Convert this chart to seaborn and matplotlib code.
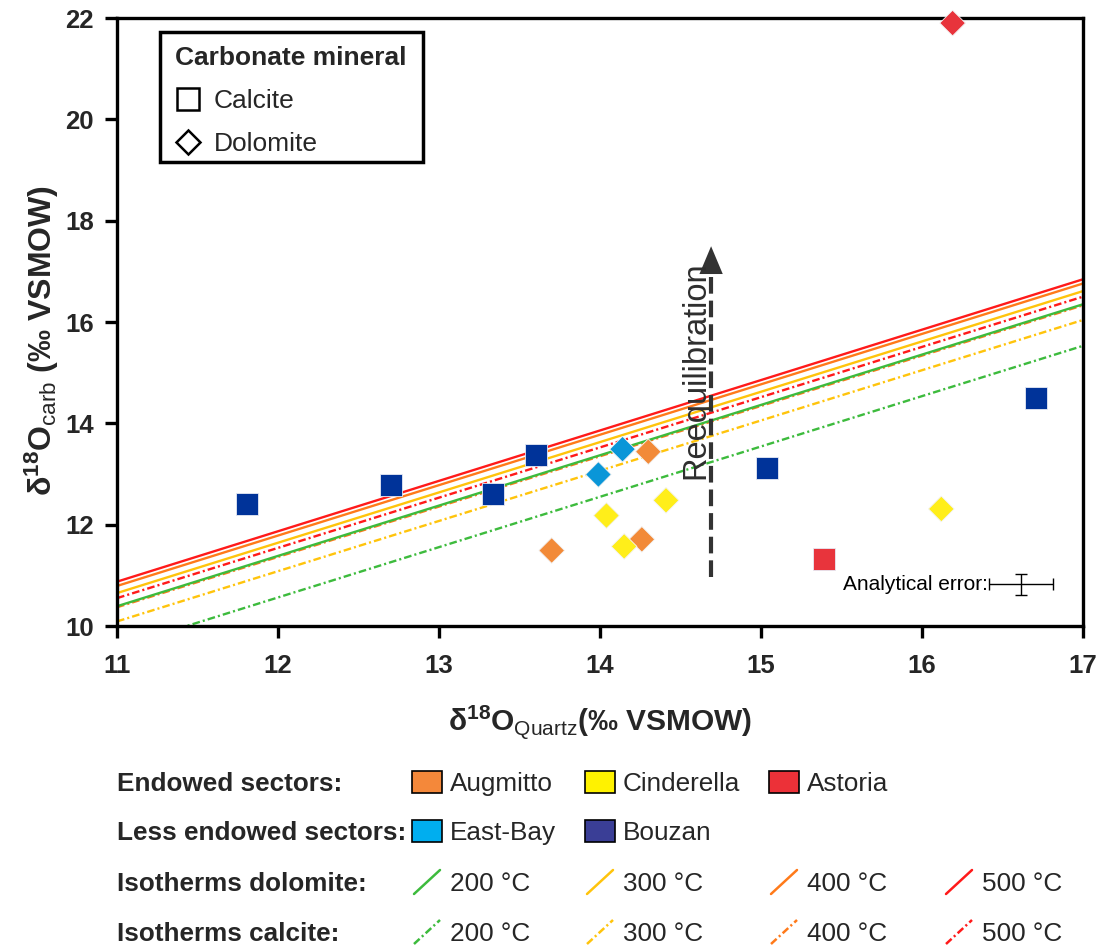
import matplotlib
matplotlib.use("Agg")
import matplotlib.pyplot as plt
import numpy as np
import pandas as pd
import seaborn as sns
from matplotlib.lines import Line2D
from matplotlib.patches import Rectangle

sns.set_style("ticks")
plt.rcParams["font.family"] = ["Liberation Sans", "DejaVu Sans"]
plt.rcParams["mathtext.fontset"] = "custom"
plt.rcParams["mathtext.rm"] = "Liberation Sans"
plt.rcParams["mathtext.bf"] = "Liberation Sans:bold"
plt.rcParams["mathtext.it"] = "Liberation Sans:italic"
plt.rcParams["lines.scale_dashes"] = False

# ---- Oxygen isotope data (‰ VSMOW): quartz vs. coexisting carbonate ----
bouzan_quartz = [11.81, 12.70, 13.335, 13.60, 15.04, 16.71]
bouzan_carb = [12.41, 12.78, 12.61, 13.38, 13.12, 14.50]
bouzan_mineral = ["Calcite"] * 6

astoria_quartz = [15.39, 16.19]
astoria_carb = [11.32, 21.90]
astoria_mineral = ["Calcite", "Dolomite"]

eastbay_quartz = [13.99, 14.14]
eastbay_carb = [12.99, 13.49]
eastbay_mineral = ["Dolomite", "Dolomite"]

augmitto_quartz = [14.30, 13.70, 14.26]
augmitto_carb = [13.44, 11.49, 11.71]
augmitto_mineral = ["Dolomite"] * 3

cinderella_quartz = [14.04, 14.15, 14.41, 16.12]
cinderella_carb = [12.18, 11.57, 12.48, 12.31]
cinderella_mineral = ["Dolomite"] * 4

# ---- Isotherms: carbonate value at the two ends of the quartz range ----
iso_quartz = [11, 17]
iso_temps = ["200 °C", "300 °C", "400 °C", "500 °C"]
dolomite_carb_start = [10.39, 10.65, 10.79, 10.875]
dolomite_carb_end = [16.35, 16.61, 16.76, 16.843]
calcite_carb_start = [9.57, 10.09, 10.37, 10.55]
calcite_carb_end = [15.53, 16.04, 16.33, 16.50]

# Analytical error (‰)
err_quartz, err_carb = 16.615, 10.82
err_size = 0.2

# Reequilibration trend arrow
reeq_quartz = 14.69
reeq_from, reeq_to = 10.97, 17.55

# Ticks
x_ticks = [11, 12, 13, 14, 15, 16, 17]
y_ticks = [10, 12, 14, 16, 18, 20, 22]

# ---- Colours ----
marker_colors = {
    "Augmitto": "#f28a38",
    "Cinderella": "#ffee1a",
    "Astoria": "#e8343c",
    "East-Bay": "#0a96d8",
    "Bouzan": "#003399",
}
patch_colors = {
    "Augmitto": "#f4883a",
    "Cinderella": "#fff200",
    "Astoria": "#ec3138",
    "East-Bay": "#00aeef",
    "Bouzan": "#3a3e96",
}
iso_colors = ["#3dbb3d", "#ffc40c", "#ff7a1a", "#ff1a1a"]
dashdot = (0, (5.5, 2.2, 1.5, 2.2))

frames = []
for name, xs, ys, ms in [
    ("Bouzan", bouzan_quartz, bouzan_carb, bouzan_mineral),
    ("Astoria", astoria_quartz, astoria_carb, astoria_mineral),
    ("East-Bay", eastbay_quartz, eastbay_carb, eastbay_mineral),
    ("Augmitto", augmitto_quartz, augmitto_carb, augmitto_mineral),
    ("Cinderella", cinderella_quartz, cinderella_carb, cinderella_mineral),
]:
    frames.append(pd.DataFrame({"quartz": xs, "carb": ys, "sector": name, "mineral": ms}))
df = pd.concat(frames, ignore_index=True)

fig = plt.figure(figsize=(11.04, 9.49), dpi=100)
ax = fig.add_axes([117 / 1104, 1 - 626 / 949, 966 / 1104, 608 / 949])

# Isotherms: calcite (dash-dot) underneath, dolomite (solid) on top
for c, a, b in zip(iso_colors, calcite_carb_start, calcite_carb_end):
    sns.lineplot(x=iso_quartz, y=[a, b], color=c, lw=1.7, linestyle=dashdot, ax=ax)
for c, a, b in zip(iso_colors, dolomite_carb_start, dolomite_carb_end):
    sns.lineplot(x=iso_quartz, y=[a, b], color=c, lw=1.7, ax=ax)

# Samples
sns.scatterplot(data=df[df.mineral == "Calcite"], x="quartz", y="carb", hue="sector",
                palette=marker_colors, marker="s", s=250, edgecolor="#e6eaf4",
                linewidth=0.6, legend=False, zorder=3, clip_on=False, ax=ax)
sns.scatterplot(data=df[df.mineral == "Dolomite"], x="quartz", y="carb", hue="sector",
                palette=marker_colors, marker="D", s=170, edgecolor="#f2f2f2",
                linewidth=0.6, legend=False, zorder=3, clip_on=False, ax=ax)

# Reequilibration arrow
ax.plot([reeq_quartz, reeq_quartz], [reeq_from, reeq_to - 0.45], color="#333333",
        lw=3, linestyle=(0, (12, 5)), zorder=4)
ax.annotate("", xy=(reeq_quartz, reeq_to), xytext=(reeq_quartz, reeq_to - 0.5),
            arrowprops=dict(arrowstyle="-|>,head_length=1.0,head_width=0.42",
                            color="#333333", lw=0, mutation_scale=20), zorder=4)
ax.text(14.597, 15.05, "Reequilibration", rotation=90, ha="center", va="center",
        fontsize=23.5, color="#2e2e2e", zorder=4)

# Analytical error bar
ax.errorbar([err_quartz], [err_carb], xerr=err_size, yerr=err_size, color="black",
            lw=1.0, capsize=4, capthick=1.0, zorder=4)
ax.text(err_quartz - err_size - 0.005, err_carb, "Analytical error:", ha="right",
        va="center", fontsize=15, color="black")

ax.set_xlim(11, 17)
ax.set_ylim(10, 22)
ax.set_xticks(x_ticks)
ax.set_xticklabels([str(t) for t in x_ticks], fontweight="bold", fontsize=18.5)
ax.set_yticks(y_ticks)
ax.set_yticklabels([str(t) for t in y_ticks], fontweight="bold", fontsize=18.5)
ax.tick_params(direction="out", length=8.5, width=2.4, color="black")
ax.tick_params(axis="x", pad=12)
ax.tick_params(axis="y", pad=8)
for sp in ax.spines.values():
    sp.set_visible(True)
    sp.set_linewidth(2.4)
    sp.set_color("black")

ax.set_xlabel(r"$\mathbf{δ^{18}O}_{\mathrm{Quartz}}$(‰ VSMOW)", fontsize=21.5, fontweight="bold")
ax.set_ylabel(r"$\mathbf{δ^{18}O}_{\mathrm{carb}}$ (‰ VSMOW)", fontsize=23, fontweight="bold")
ax.xaxis.set_label_coords(0.5, -0.127)
ax.yaxis.set_label_coords(-0.058, 0.469)

# Mineral legend (marker shapes) inside a plain rectangular box
ax.add_patch(Rectangle((0.0445, 0.7632), 0.2723, 0.2138, transform=ax.transAxes,
                       facecolor="white", edgecolor="black", lw=2.5, zorder=4.9))
shape_handles = [
    Line2D([], [], marker="s", ls="none", mfc="white", mec="black", ms=16.5, mew=1.8, label="Calcite"),
    Line2D([], [], marker="D", ls="none", mfc="white", mec="black", ms=12.7, mew=1.8, label="Dolomite"),
]
leg = ax.legend(handles=shape_handles, title="Carbonate mineral", loc="upper left",
                bbox_to_anchor=(0.0445, 0.977), borderaxespad=0, frameon=False,
                fontsize=19, title_fontsize=19, alignment="left", handlelength=1.0,
                handletextpad=0.5, labelspacing=0.72, borderpad=0.55)
leg.get_title().set_fontweight("bold")

# Sector / isotherm key below the plot (figure pixel space)
key = fig.add_axes([0, 0, 1, 1], zorder=-1)
key.set_xlim(0, 1104)
key.set_ylim(949, 0)
key.axis("off")

row_y = [782, 831, 882, 932]
row_titles = ["Endowed sectors:", "Less endowed sectors:", "Isotherms dolomite:", "Isotherms calcite:"]
col_x = [412, 585, 769, 944]
fs_key = 18.8
for y, t in zip(row_y, row_titles):
    key.text(117, y + 9, t, fontsize=fs_key, fontweight="bold", va="baseline", ha="left")

rows_sectors = [["Augmitto", "Cinderella", "Astoria"], ["East-Bay", "Bouzan"]]
for y, names in zip(row_y[:2], rows_sectors):
    for x, n in zip(col_x, names):
        key.add_patch(Rectangle((x, y - 11), 30, 22, facecolor=patch_colors[n],
                                edgecolor="black", lw=1.2))
        key.text(x + 38, y + 9, n, fontsize=fs_key, va="baseline", ha="left")

for y, style in zip(row_y[2:], ["-", dashdot]):
    for x, c, t in zip(col_x, iso_colors, iso_temps):
        key.add_line(Line2D([x + 2, x + 28], [y + 12, y - 12], color=c, lw=1.8, linestyle=style))
        key.text(x + 38, y + 9, t, fontsize=fs_key, va="baseline", ha="left")

fig.savefig("out.png", dpi=100)
